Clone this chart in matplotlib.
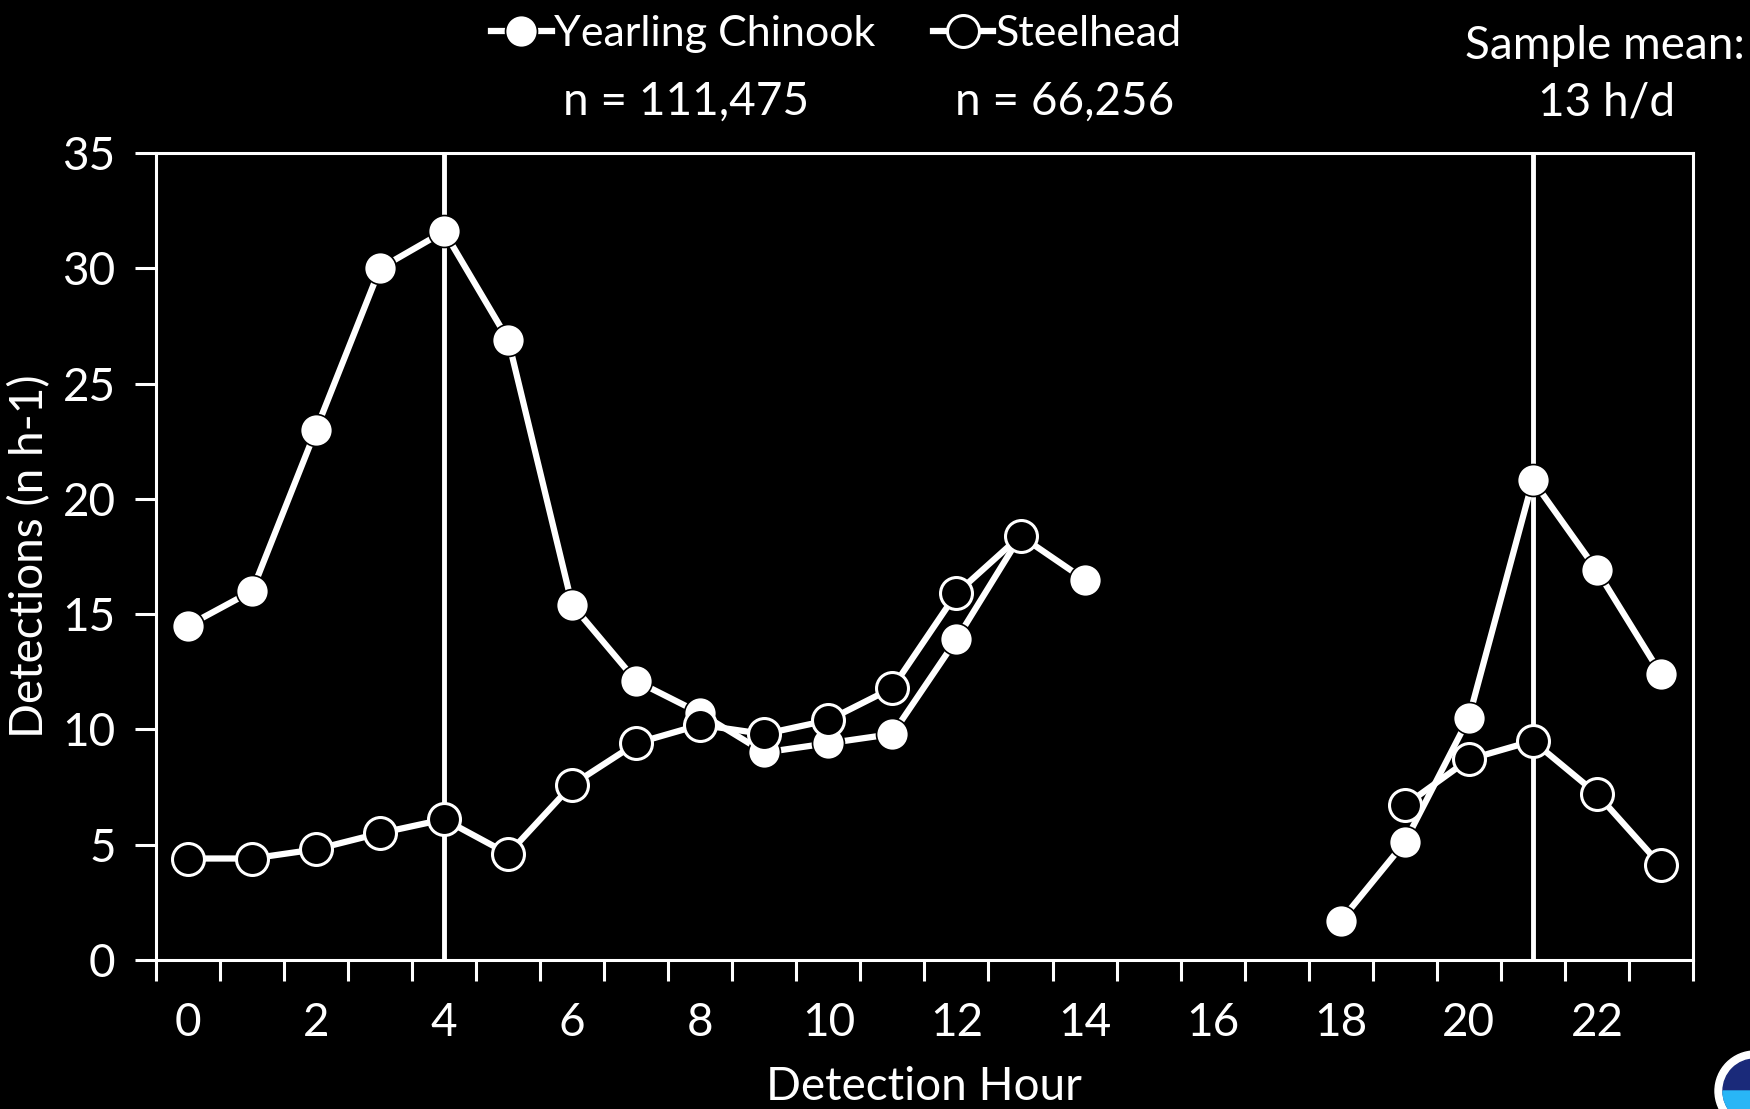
import matplotlib
matplotlib.use("Agg")
import matplotlib.pyplot as plt
import numpy as np
from matplotlib.patches import Circle, Wedge

hours = list(range(24))
chinook = [14.5, 16.0, 23.0, 30.0, 31.6, 26.9, 15.4, 12.1, 10.7, 9.0, 9.4, 9.8, 13.9, 18.4, 16.5,
           np.nan, np.nan, np.nan, 1.7, 5.1, 10.5, 20.8, 16.9, 12.4]
steelhead = [4.4, 4.4, 4.8, 5.5, 6.1, 4.6, 7.6, 9.4, 10.2, 9.8, 10.4, 11.8, 15.9, 18.4, np.nan,
             np.nan, np.nan, np.nan, np.nan, 6.7, 8.7, 9.5, 7.2, 4.1]
mean_lines = [4, 21]
xtick_labels = ["0", "2", "4", "6", "8", "10", "12", "14", "16", "18", "20", "22"]
yticks = [0, 5, 10, 15, 20, 25, 30, 35]

plt.rcParams['font.family'] = ['Lato', 'DejaVu Sans']
fs = 33

fig = plt.figure(figsize=(17.5, 11.09), dpi=100, facecolor='black')
ax = fig.add_axes([0.0891, 0.1344, 0.8783, 0.7276], facecolor='black')

for v in mean_lines:
    ax.plot([v, v], [0, 35], color='white', lw=3.5, zorder=1)

lc, = ax.plot(hours, chinook, color='white', lw=4.5, marker='o', markersize=23,
              markerfacecolor='white', markeredgecolor='black', markeredgewidth=1.2, zorder=3)
ls, = ax.plot(hours, steelhead, color='white', lw=4.5, marker='o', markersize=23,
              markerfacecolor='black', markeredgecolor='white', markeredgewidth=2.2, zorder=4)

ax.set_xlim(-0.5, 23.5)
ax.set_ylim(0, 35)
ax.set_yticks(yticks)
ax.set_xticks(np.arange(-0.5, 24, 1), minor=True)
ax.set_xticks(range(0, 24, 2))
ax.set_xticklabels(xtick_labels)
ax.tick_params(axis='x', which='major', length=0, pad=30, labelsize=fs, colors='white')
ax.tick_params(axis='x', which='minor', length=15, width=2.2, direction='out', color='white')
ax.tick_params(axis='y', length=15, width=2.2, direction='out', colors='white', labelsize=fs, pad=14)
for s in ax.spines.values():
    s.set_color('white')
    s.set_linewidth(2.2)

ax.set_xlabel("Detection Hour", color='white', fontsize=fs, labelpad=16)
ax.set_ylabel("Detections (n h-1)", color='white', fontsize=fs, labelpad=8)

leg = fig.legend([lc, ls], ["Yearling Chinook", "Steelhead"], loc='center',
                 bbox_to_anchor=(0.478, 0.969), ncol=2, frameon=False, fontsize=31,
                 handlelength=1.4, handletextpad=0.05, columnspacing=1.35, labelcolor='white',
                 markerscale=1.0)

fig.text(686/1750, 1 - 102/1109, "n = 111,475", color='white', fontsize=fs, ha='center', va='center')
fig.text(1065/1750, 1 - 102/1109, "n = 66,256", color='white', fontsize=fs, ha='center', va='center')
fig.text(1605/1750, 1 - 46/1109, "Sample mean:", color='white', fontsize=fs, ha='center', va='center')
fig.text(1607/1750, 1 - 102/1109, "13 h/d", color='white', fontsize=fs, ha='center', va='center')

# partial logo at bottom right
lax = fig.add_axes([1713/1750, 0, 37/1750, 62/1109], facecolor='black')
lax.set_xlim(0, 37)
lax.set_ylim(0, 62)
lax.axis('off')
lax.add_patch(Circle((42, 18), 40, color='white'))
lax.add_patch(Circle((42, 18), 32, color='#1a2a7a'))
lax.add_patch(Wedge((42, 18), 32, 180, 300, color='#29b6f6'))

fig.savefig("out.png", dpi=100, facecolor='black')
